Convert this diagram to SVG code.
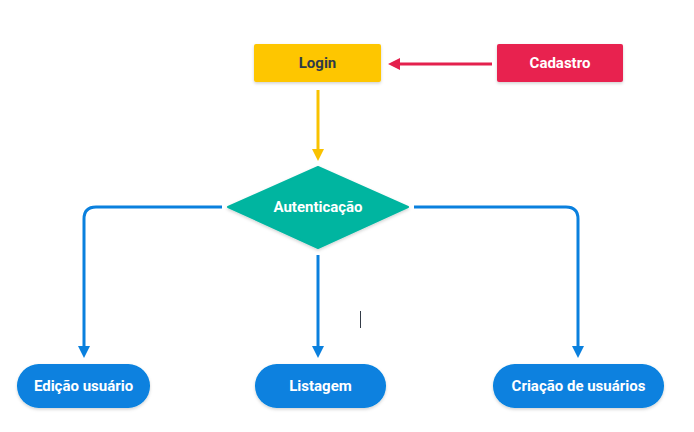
<svg xmlns="http://www.w3.org/2000/svg" width="694" height="432" viewBox="0 0 694 432">
<defs>
<filter id="sh" x="-10%" y="-20%" width="120%" height="150%">
<feDropShadow dx="0" dy="1.5" stdDeviation="1.5" flood-color="#000" flood-opacity="0.18"/>
</filter>
<marker id="ay" viewBox="0 0 10 10" refX="5" refY="5" markerWidth="4" markerHeight="4" orient="auto"><path d="M0,0 L10,5 L0,10 z" fill="#f9c200"/></marker>
<marker id="ar" viewBox="0 0 10 10" refX="5" refY="5" markerWidth="4" markerHeight="4" orient="auto"><path d="M0,0 L10,5 L0,10 z" fill="#e4204d"/></marker>
<marker id="ab" viewBox="0 0 10 10" refX="5" refY="5" markerWidth="4" markerHeight="4" orient="auto"><path d="M0,0 L10,5 L0,10 z" fill="#0a80de"/></marker>
</defs>
<style>
text{font-family:Roboto,"Liberation Sans",sans-serif;font-size:15px;font-weight:700;text-anchor:middle;dominant-baseline:central}
.w{fill:#fff}
.d{fill:#2f3a48}
.blue{fill:#0781df}
.c{fill:none;stroke-width:3;stroke-linecap:butt}
</style>
<rect width="694" height="432" fill="#fff"/>
<g id="connectors">
<path class="c" d="M318,90 V155" stroke="#f9c200" marker-end="url(#ay)"/>
<path class="c" d="M492,64 H394" stroke="#e4204d" marker-end="url(#ar)"/>
<path class="c" d="M222,207 H96 Q84,207 84,219 V352" stroke="#0a80de" marker-end="url(#ab)"/>
<path class="c" d="M318,255 V352" stroke="#0a80de" marker-end="url(#ab)"/>
<path class="c" d="M414,207 H566 Q578,207 578,219 V352" stroke="#0a80de" marker-end="url(#ab)"/>
</g>
<g id="login">
<rect x="254" y="44" width="127" height="38" rx="2" fill="#fec600" filter="url(#sh)"/>
<text x="317.5" y="63" class="d">Login</text>
</g>
<g id="cadastro">
<rect x="497" y="44" width="126" height="38" rx="2" fill="#e8224f" filter="url(#sh)"/>
<text x="560" y="63" class="w">Cadastro</text>
</g>
<g id="autenticacao">
<path d="M318,167 L408,207 L318,248 L228,207 Z" fill="#00b5a0" stroke="#00b5a0" stroke-width="2" stroke-linejoin="round" filter="url(#sh)"/>
<text x="318" y="207" class="w">Autenticação</text>
</g>
<g id="edicao">
<rect x="17" y="364" width="133" height="44" rx="22" class="blue" filter="url(#sh)"/>
<text x="83.5" y="386" class="w">Edição usuário</text>
</g>
<g id="listagem">
<rect x="255" y="364" width="131" height="44" rx="22" class="blue" filter="url(#sh)"/>
<text x="320.5" y="386" class="w">Listagem</text>
</g>
<g id="criacao">
<rect x="493" y="364" width="171" height="44" rx="22" class="blue" filter="url(#sh)"/>
<text x="578.5" y="386" class="w">Criação de usuários</text>
</g>
<line x1="360.5" y1="311" x2="360.5" y2="328" stroke="#333b47" stroke-width="1"/>
</svg>
